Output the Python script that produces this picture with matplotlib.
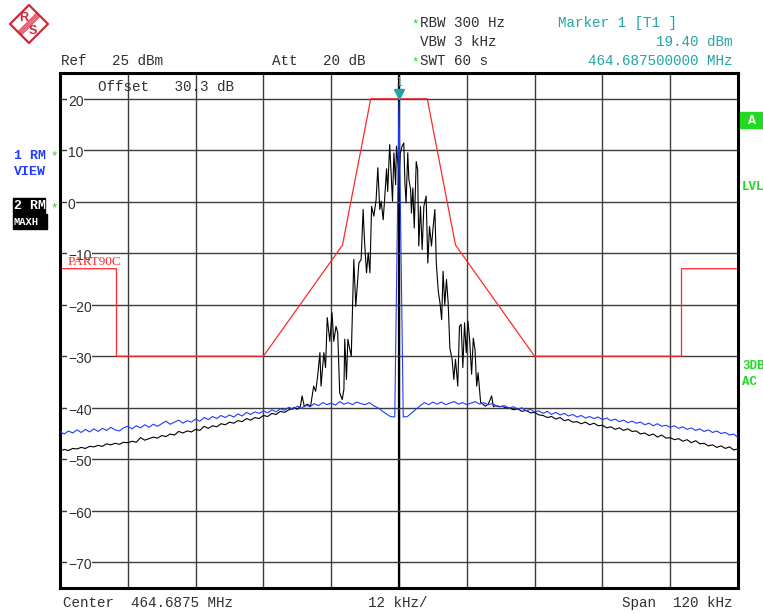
import numpy as np
import matplotlib
matplotlib.use("Agg")
import matplotlib.pyplot as plt
from matplotlib.patches import Polygon, Rectangle

W, H = 763, 614
MONO = "Liberation Mono"
SANS = "Liberation Sans"

# sweep: center 464.6875 MHz, span 120 kHz, ref 25 dBm, 10 dB/div
span_khz = 120.0
ref_dbm = 25.0
ytick_vals = [20, 10, 0, -10, -20, -30, -40, -50, -60, -70]

# trace 1 (RM, VIEW), 161 sweep points from -60 to +60 kHz
trace1_dbm = [
    -44.6, -45.1, -44.5, -44.9, -44.3, -44.8, -44.2, -44.7,
    -44.1, -44.6, -44.0, -44.4, -43.8, -44.3, -44.5, -43.9,
    -43.6, -44.1, -43.5, -43.9, -43.3, -43.8, -43.2, -43.6,
    -43.1, -42.6, -43.2, -42.8, -42.4, -43.0, -42.5, -42.8,
    -42.2, -42.6, -41.9, -42.3, -41.7, -42.1, -41.5, -41.9,
    -41.4, -41.8, -41.2, -41.6, -40.9, -41.3, -40.8, -41.1,
    -40.6, -41.0, -40.4, -40.8, -40.2, -40.5, -39.9, -40.3,
    -39.7, -40.1, -39.5, -39.8, -39.2, -39.6, -39.0, -39.4,
    -39.1, -39.5, -38.8, -39.3, -39.0, -39.4, -38.9, -39.2,
    -39.4, -39.0, -39.6, -40.0, -40.6, -41.2, -41.7, -41.8,
    19.4,
    -41.8, -41.7, -41.0, -40.3, -39.6, -39.0, -39.4, -38.9,
    -39.3, -38.9, -39.4, -39.1, -38.8, -39.3, -39.0, -39.4,
    -39.1, -38.8, -39.3, -39.0, -39.4, -39.2, -39.6, -39.8,
    -39.6, -40.1, -39.8, -40.3, -40.0, -40.6, -40.3, -40.8,
    -40.6, -41.1, -40.7, -41.3, -40.9, -41.4, -41.1, -41.6,
    -41.3, -41.8, -41.5, -42.0, -41.7, -42.1, -41.8, -42.3,
    -42.0, -42.5, -42.2, -42.7, -42.4, -42.9, -42.6, -43.0,
    -42.8, -43.3, -43.0, -43.5, -43.1, -43.6, -43.4, -43.8,
    -43.5, -44.0, -43.7, -44.2, -43.9, -44.4, -44.1, -44.6,
    -44.3, -44.8, -44.5, -45.0, -44.8, -45.3, -45.1, -45.8,
]

# trace 2 (RM, MAXH): noise floor -60..-19.5 kHz
trace2_left_dbm = [
    -48.4, -48.1, -48.3, -47.9, -48.0, -47.7, -47.9, -47.5,
    -47.6, -47.3, -47.5, -47.0, -47.2, -46.9, -47.1, -46.7,
    -46.8, -46.5, -46.7, -45.8, -46.3, -46.0, -45.7, -45.9,
    -45.4, -45.6, -45.1, -45.3, -44.6, -44.9, -44.5, -44.7,
    -44.2, -44.4, -43.6, -44.0, -43.5, -43.7, -43.1, -43.3,
    -42.8, -43.0, -42.5, -42.7, -42.1, -42.4, -41.9, -42.1,
    -41.5, -41.7, -41.1, -41.3, -40.7, -40.9, -40.4,
]
# trace 2 modulation band
trace2_mid_khz = [
    -19.2, -18.6, -18.0, -17.45, -17.15, -16.75, -16.25, -15.65,
    -15.1, -14.75, -14.4, -14.0, -13.8, -13.3, -13.0, -12.7,
    -12.25, -11.85, -11.55, -11.15, -10.85, -10.5, -10.05, -9.75,
    -9.6, -9.3, -9.05, -8.7, -8.45, -8.0, -7.65, -7.1,
    -6.7, -6.35, -6.1, -5.75, -5.45, -5.15, -4.85, -4.45,
    -4.05, -3.75, -3.4, -3.15, -2.8, -2.55, -2.2, -2.0,
    -1.65, -1.4, -1.15, -0.9, -0.6, -0.45, 0.0,
    0.25, 0.55, 0.85, 1.05, 1.25, 1.55, 1.75, 2.05,
    2.2, 2.45, 2.7, 3.05, 3.3, 3.5, 3.8, 4.1,
    4.4, 4.8, 5.1, 5.4, 5.75, 6.0, 6.35, 6.6,
    6.95, 7.25, 7.55, 7.8, 8.1, 8.4, 8.7, 9.0,
    9.4, 9.7, 10.0, 10.4, 10.7, 11.0, 11.3, 11.6,
    11.9, 12.2, 12.5, 12.85, 13.15, 13.45, 13.75, 14.0,
    14.45, 14.85, 15.3, 15.8, 16.4, 16.7, 17.1, 17.7,
    18.3, 18.85,
]
trace2_mid_dbm = [
    -40.3, -40.0, -40.3, -39.7, -37.7, -39.8, -39.3, -39.7,
    -35.8, -36.8, -33.9, -29.3, -35.8, -29.3, -32.2, -22.5,
    -27.1, -21.6, -27.1, -24.2, -25.4, -37.1, -38.4, -36.4,
    -26.7, -34.5, -26.7, -28.7, -30.0, -11.2, -20.3, -11.9,
    -11.2, -1.5, -7.7, -13.8, -9.9, -13.8, -0.9, -2.8,
    0.4, 6.6, -1.5, 0.1, -3.5, 0.4, 6.4, 2.0,
    11.1, 5.6, 0.1, 9.5, 3.3, 10.8, 5.0,
    9.5, 10.8, 11.4, 3.6, -0.2, 9.5, 4.3, 2.4,
    -2.2, 2.7, -5.1, 7.8, 6.2, -8.6, -0.9, -9.3,
    -0.9, 1.1, -11.9, -4.8, -8.6, -5.4, -1.5, -11.9,
    -17.4, -19.6, -22.9, -13.5, -20.0, -15.1, -19.6, -28.4,
    -30.6, -34.5, -30.6, -35.8, -24.2, -23.8, -32.2, -23.5,
    -29.3, -23.2, -26.7, -33.5, -26.5, -28.7, -35.8, -33.2,
    -39.0, -39.3, -39.7, -39.3, -37.7, -39.8, -39.6, -39.8,
    -39.7, -40.0,
]
# trace 2 noise floor 19.5..60 kHz
trace2_right_dbm = [
    -40.0, -40.4, -40.2, -40.7, -40.5, -41.0, -40.9, -41.4,
    -41.5, -41.9, -41.7, -42.2, -41.9, -42.5, -42.3, -42.8,
    -42.7, -43.1, -42.8, -43.3, -43.0, -43.5, -43.4, -43.9,
    -43.7, -44.2, -43.9, -44.4, -44.1, -44.6, -44.5, -45.1,
    -44.9, -45.4, -45.1, -45.7, -45.3, -45.9, -45.8, -46.2,
    -46.0, -46.5, -46.2, -46.8, -46.4, -47.0, -46.9, -47.4,
    -47.2, -47.7, -47.4, -47.9, -47.6, -48.2, -48.0,
]

# PART90C limit line
limit_khz = [-60, -50, -50, -24, -10, -5, 5, 10, 24, 50, 50, 60]
limit_dbm = [-13, -13, -30, -30, -8.4, 20, 20, -8.4, -30, -30, -13, -13]

marker_khz = 0.0
marker_dbm = 19.40

BLUE = "#1f3cff"
TEAL = "#22a5a5"
GREEN = "#22d822"
RED = "#ff2a2a"
TXT = "#303030"

half = span_khz / 2
f1 = np.linspace(-half, half, len(trace1_dbm))
f2 = np.concatenate([np.linspace(-half, -19.5, len(trace2_left_dbm)),
                     trace2_mid_khz,
                     np.linspace(19.5, half, len(trace2_right_dbm))])
l2 = np.concatenate([trace2_left_dbm, trace2_mid_dbm, trace2_right_dbm])

fig = plt.figure(figsize=(W / 100, H / 100), dpi=100)
ax = fig.add_axes([60 / W, 1 - 588 / H, 678 / W, 515 / H])
ax.set_xlim(-half, half)
ax.set_ylim(ref_dbm - 100, ref_dbm)
ax.set_xticks([])
ax.set_yticks([])
for s in ax.spines.values():
    s.set_linewidth(2.2)
    s.set_color("black")

for x in np.arange(-half + 12, half, 12):
    ax.axvline(x, color="#3c3c3c", lw=1.0, zorder=1)
ax.axvline(0, color="black", lw=1.6, zorder=1)
for v in ytick_vals:
    ax.axhline(v, color="#3c3c3c", lw=1.0, zorder=1)
    ax.text(-58.6, v - 0.6, str(v).replace("-", "\u2212"), fontsize=10,
            family=SANS, color=TXT, ha="left", va="center", zorder=6,
            bbox=dict(facecolor="white", edgecolor="none", pad=0.6))

ax.plot(limit_khz, limit_dbm, color=RED, lw=0.9, zorder=2)
ax.plot(f2, l2, color="black", lw=0.8, zorder=3)
ax.plot(f1, trace1_dbm, color=BLUE, lw=0.8, zorder=4)

ax.plot(marker_khz, marker_dbm + 1.6, marker="v", color=TEAL, ms=7, zorder=7)
ax.text(marker_khz, marker_dbm + 3.6, "1", color=TEAL, fontsize=9,
        family=SANS, ha="center", va="center", zorder=7)

ax.text(-53.2, 22.3, "Offset   30.3 dB", family=MONO, fontsize=10.3,
        color=TXT, va="center", ha="left", zorder=6)
ax.text(-58.6, -12.9, "PART90C", family="Liberation Serif", fontsize=9.5,
        color=RED, va="bottom", ha="left", zorder=7)

# header, footer and side annotations in pixel coordinates
ov = fig.add_axes([0, 0, 1, 1])
ov.set_xlim(0, W)
ov.set_ylim(H, 0)
ov.axis("off")
ov.set_zorder(5)
ov.patch.set_alpha(0)


def label(x, y, s, color=TXT, ha="left", size=10.3, weight="normal"):
    return ov.text(x, y, s, family=MONO, fontsize=size, color=color,
                   ha=ha, va="center", fontweight=weight)


label(61, 61, "Ref   25 dBm")
label(272, 61, "Att   20 dB")
label(420, 23, "RBW 300 Hz")
label(420, 42, "VBW 3 kHz")
label(420, 61, "SWT 60 s")
for yy in (23, 61):
    label(411, yy + 1, "*", color=GREEN, size=9)
label(558, 23, "Marker 1 [T1 ]", color=TEAL)
label(733, 42, "19.40 dBm", color=TEAL, ha="right")
label(733, 61, "464.687500000 MHz", color=TEAL, ha="right")

label(63, 603, "Center  464.6875 MHz")
label(368, 603, "12 kHz/")
label(733, 603, "Span  120 kHz", ha="right")

# trace labels on the left
clip = Rectangle((0, 0), 45, H, transform=ov.transData)
for yy, s in ((156, "1 RM"), (172, "VIEW")):
    t = label(14, yy, s, color=BLUE, size=9.5, weight="bold")
    t.set_clip_path(clip)
ov.add_patch(Rectangle((13, 198), 32, 15, color="black"))
ov.add_patch(Rectangle((13, 214), 34, 15, color="black"))
t = label(14, 206, "2 RM", color="white", size=9.5, weight="bold")
t.set_clip_path(Rectangle((0, 0), 45, H, transform=ov.transData))
label(14, 222, "MAXH", color="white", size=7.5, weight="bold")
for yy in (155, 207):
    label(50, yy + 1, "*", color=GREEN, size=9)

# status flags on the right
ov.add_patch(Rectangle((740, 112), 23, 16, color=GREEN))
label(752, 121, "A", color="white", ha="center", size=9.5, weight="bold")
label(742, 187, "LVL", color=GREEN, size=9, weight="bold")
label(742, 366, "3DB", color=GREEN, size=9, weight="bold")
label(742, 382, "AC", color=GREEN, size=9, weight="bold")

# R&S logo
LOGO = "#cc2a3a"
cx, cy, r = 29, 24, 19
ov.add_patch(Polygon([(cx, cy - r), (cx + r, cy), (cx, cy + r), (cx - r, cy)],
                     closed=True, facecolor="white", edgecolor=LOGO,
                     lw=1.6, joinstyle="round"))
for off in (-2.4, -1.2, 0.0, 1.2, 2.4):
    d = off / np.sqrt(2)
    ov.plot([cx - 9.5 + d, cx + 9.5 + d], [cy + 9.5 + d, cy - 9.5 + d],
            color=LOGO, lw=0.6)
ov.text(cx - 5, cy - 6, "R", color=LOGO, fontsize=9, family=SANS,
        fontweight="bold", ha="center", va="center")
ov.text(cx + 4, cy + 7, "S", color=LOGO, fontsize=9, family=SANS,
        fontweight="bold", ha="center", va="center")

fig.savefig("out.png", dpi=100)
